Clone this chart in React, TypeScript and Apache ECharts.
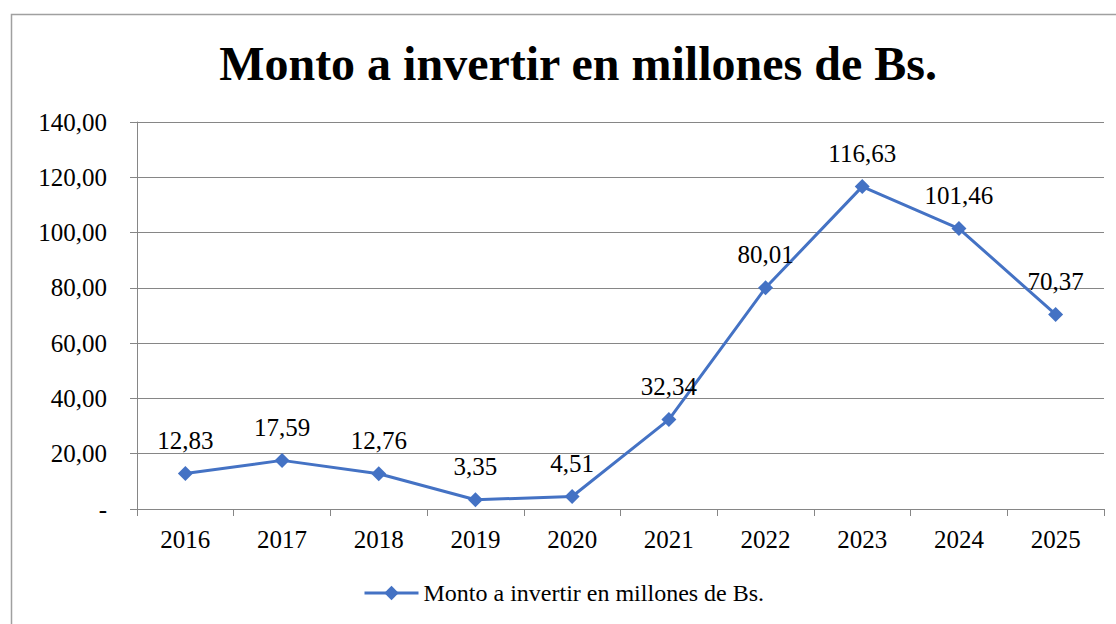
import React, { useEffect, useRef } from "react";
import * as echarts from "echarts";

const categories = ["2016", "2017", "2018", "2019", "2020", "2021", "2022", "2023", "2024", "2025"];
const values = [12.83, 17.59, 12.76, 3.35, 4.51, 32.34, 80.01, 116.63, 101.46, 70.37];
const seriesName = "Monto a invertir en millones de Bs.";
const titleText = "Monto a invertir en millones de Bs.";

const fmt = (v: number) => (v === 0 ? "-" : v.toFixed(2).replace(".", ","));
const FONT = "Times New Roman";

export default function App() {
  const ref = useRef<HTMLDivElement>(null);
  useEffect(() => {
    if (!ref.current) return;
    const chart = echarts.init(ref.current, null, { renderer: "svg" });
    chart.setOption({
      animation: false,
      backgroundColor: "#ffffff",
      textStyle: { fontFamily: FONT },
      graphic: [
        {
          type: "rect",
          shape: { x: 11.5, y: 14.5, width: 1130, height: 640 },
          style: { fill: "none", stroke: "#a0a0a0", lineWidth: 1.5 },
          silent: true,
        },
      ],
      title: {
        text: titleText,
        left: 573,
        textAlign: "center",
        top: 34,
        textStyle: { fontFamily: FONT, fontSize: 48, fontWeight: "bold", color: "#000" },
      },
      legend: {
        bottom: 14,
        left: 358,
        itemWidth: 54,
        itemHeight: 18,
        itemGap: 5,
        textStyle: { fontFamily: FONT, fontSize: 24, color: "#000" },
        lineStyle: { width: 3 },
        data: [seriesName],
      },
      grid: { left: 137, right: 12, top: 122, bottom: 115, containLabel: false },
      xAxis: {
        type: "category",
        data: categories,
        boundaryGap: true,
        axisLine: { lineStyle: { color: "#868686", width: 1 } },
        axisTick: { show: true, alignWithLabel: false, length: 7, lineStyle: { color: "#868686" } },
        axisLabel: { fontFamily: FONT, fontSize: 25, color: "#000", margin: 18 },
      },
      yAxis: {
        type: "value",
        min: 0,
        max: 140,
        interval: 20,
        axisLine: { show: true, lineStyle: { color: "#868686", width: 1 } },
        axisTick: { show: true, length: 7, lineStyle: { color: "#868686" } },
        splitLine: { lineStyle: { color: "#868686", width: 1 } },
        axisLabel: {
          fontFamily: FONT,
          fontSize: 25,
          color: "#000",
          margin: 30,
          formatter: (v: number) => fmt(v),
        },
      },
      series: [
        {
          name: seriesName,
          type: "line",
          data: values,
          symbol: "diamond",
          symbolSize: 15,
          lineStyle: { color: "#4472C4", width: 3 },
          itemStyle: { color: "#4472C4" },
          label: {
            show: true,
            position: "top",
            distance: 13,
            fontFamily: FONT,
            fontSize: 25,
            color: "#000",
            formatter: (p: any) => fmt(p.value),
          },
        },
      ],
    });
    return () => chart.dispose();
  }, []);
  return (
    <div
      ref={ref}
      style={{ position: "fixed", left: 0, top: 0, width: 1116, height: 624 }}
    />
  );
}
